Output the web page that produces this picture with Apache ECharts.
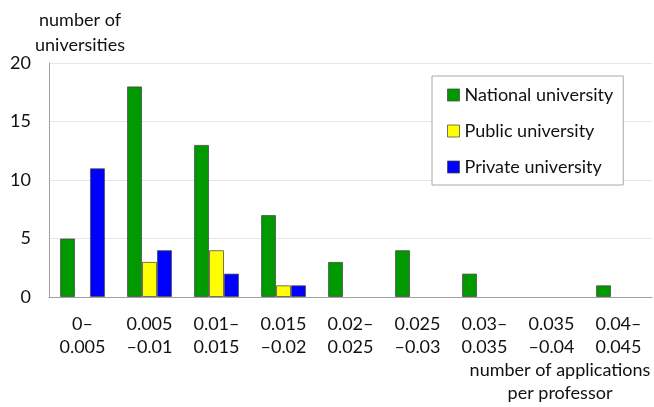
<!DOCTYPE html>
<html>
<head>
<meta charset="utf-8">
<script src="https://cdn.jsdelivr.net/npm/echarts@6/dist/echarts.min.js"></script>
<style>
html,body{margin:0;padding:0;background:#fff;}
#chart{width:654px;height:407px;}
</style>
</head>
<body>
<div id="chart"></div>
<script>
// Bins of applications per professor
const categories = ['0–\n0.005', '0.005\n–0.01', '0.01–\n0.015', '0.015\n–0.02', '0.02–\n0.025', '0.025\n–0.03', '0.03–\n0.035', '0.035\n–0.04', '0.04–\n0.045'];
// Number of universities in each bin
const nationalValues = [5, 18, 13, 7, 3, 4, 2, 0, 1];
const publicValues   = [0, 3, 4, 1, 0, 0, 0, 0, 0];
const privateValues  = [11, 4, 2, 1, 0, 0, 0, 0, 0];
const seriesNames = ['National university', 'Public university', 'Private university'];
const yTicks = [0, 5, 10, 15, 20];
const seriesColors = ['#009a00', '#ffff00', '#0000ff'];

const FONT = 'Lato, "Open Sans", sans-serif';
const chart = echarts.init(document.getElementById('chart'), null, {renderer: 'canvas'});

// Empty bins get no outline so nothing shows on the baseline
function barData(values) {
  return values.map(v => ({
    value: v,
    itemStyle: {borderWidth: v === 0 ? 0 : 1}
  }));
}

function barSeries(i, values) {
  return {
    name: seriesNames[i], type: 'bar', data: barData(values),
    barGap: '0%', barCategoryGap: '33%',
    itemStyle: {color: seriesColors[i], borderColor: 'rgba(70,70,70,0.75)', borderWidth: 1}
  };
}

chart.setOption({
  animation: false,
  backgroundColor: '#fff',
  textStyle: {fontFamily: FONT, color: '#111'},
  title: [
    {
      text: 'number of\nuniversities',
      left: 75, top: 3, textAlign: 'center',
      textStyle: {fontFamily: FONT, fontSize: 18, fontWeight: 'normal', color: '#111', lineHeight: 25}
    },
    {
      text: 'number of applications\nper professor',
      left: 555, top: 354, textAlign: 'center',
      textStyle: {fontFamily: FONT, fontSize: 18, fontWeight: 'normal', color: '#111', lineHeight: 23}
    }
  ],
  legend: {
    orient: 'vertical',
    left: 432, top: 76,
    data: seriesNames,
    icon: 'rect',
    itemWidth: 12, itemHeight: 12,
    itemGap: 16,
    padding: [9, 10, 8, 15],
    borderColor: '#a8a8a8', borderWidth: 1,
    backgroundColor: '#fff',
    itemStyle: {borderColor: 'rgba(70,70,70,0.75)', borderWidth: 1},
    textStyle: {fontFamily: FONT, fontSize: 18, color: '#111', lineHeight: 20}
  },
  grid: {left: 49, right: 2, top: 63, bottom: 110, containLabel: false},
  xAxis: {
    type: 'category',
    data: categories,
    axisLine: {show: true, lineStyle: {color: '#a0a0a0', width: 1}},
    axisTick: {show: false},
    axisLabel: {fontFamily: FONT, fontSize: 18, color: '#111', lineHeight: 23, margin: 16, interval: 0}
  },
  yAxis: {
    type: 'value',
    min: yTicks[0], max: yTicks[yTicks.length - 1], interval: 5,
    axisLine: {show: true, lineStyle: {color: '#a0a0a0', width: 1}},
    axisTick: {show: false},
    axisLabel: {fontFamily: FONT, fontSize: 18, color: '#111', margin: 18},
    splitLine: {show: true, lineStyle: {color: '#e6e6e6', width: 1}}
  },
  series: [
    barSeries(0, nationalValues),
    barSeries(1, publicValues),
    barSeries(2, privateValues)
  ]
});
</script>
</body>
</html>
